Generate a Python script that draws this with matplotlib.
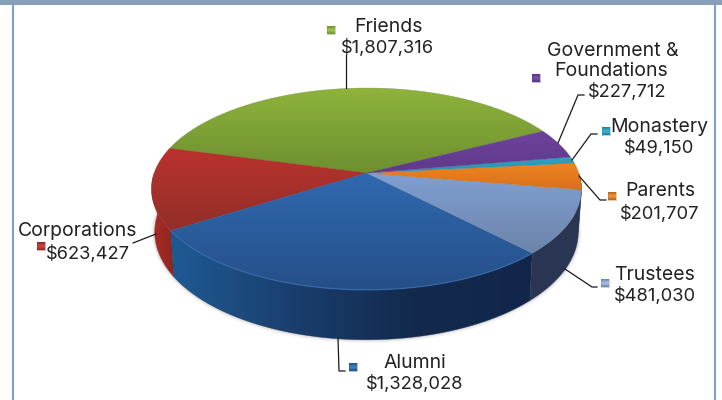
import numpy as np
import matplotlib
matplotlib.use("Agg")
import matplotlib.pyplot as plt
from matplotlib.colors import LinearSegmentedColormap
from matplotlib.patches import PathPatch
from matplotlib.path import Path

# chart data, counter-clockwise from the Friends wedge
names = ["Friends", "Corporations", "Alumni", "Trustees", "Parents", "Monastery", "Government"]
amounts = [1807316, 623427, 1328028, 481030, 201707, 49150, 227712]

top_colors = [("#8fb33c", "#6d8f30"), ("#ba322e", "#922f28"), ("#3069b0", "#264f88"),
              ("#80a0d2", "#6c84aa"), ("#ee8420", "#d8701c"), ("#33a3c0", "#2a8fae"),
              ("#6e429c", "#5f3a8c")]
wall_colors = [("#6d8f30", "#6d8f30"), ("#ae2c26", "#8c2621"),
               ("#1f5a94", "#1a3f6e", "#132a4e", "#11264a"),
               ("#2a3654", "#2a3654"), ("#2a3654", "#2a3654"), ("#1f6f88", "#1f6f88"),
               ("#46296b", "#46296b")]

label_text = [
    ("Friends", 388, 26, 14), ("$1,807,316", 388, 47, 13.2),
    ("Government &", 613, 50, 14), ("Foundations", 611, 70, 14), ("$227,712", 627, 91, 13.2),
    ("Monastery", 659, 125, 14), ("$49,150", 659, 146, 13.2),
    ("Parents", 660, 190, 14), ("$201,707", 660, 212, 13.2),
    ("Trustees", 655, 273, 14), ("$481,030", 655, 294, 13.2),
    ("Alumni", 415, 361, 14), ("$1,328,028", 415, 383, 13.2),
    ("Corporations", 78, 230, 14), ("$623,427", 88, 252, 13.2),
]
# marker x, y, light colour, dark colour
legend_marks = [(331, 30, "#a6c74e", "#6d8f30"), (536, 78, "#7d52ab", "#553385"),
                (606, 131, "#3fb5d2", "#22809c"), (612, 196, "#f09a3c", "#b8651a"),
                (605, 283, "#b0c4e2", "#6480ac"), (353, 367, "#4a82c4", "#1f4f88"),
                (41, 246, "#d04a44", "#8f2622")]
leaders = [
    [(346, 55), (346, 88)],
    [(584, 95), (578, 95), (558, 143)],
    [(597, 134), (591, 134), (572, 160)],
    [(579, 176), (600, 200), (606, 200)],
    [(565, 269), (592, 287), (597, 287)],
    [(338, 338), (339, 371), (345, 371)],
    [(133, 243), (156, 234)],
]

start_angle = 27.0
apex_x, apex_y = 366.5, 173.0
scale_x, scale_y, persp = 212.3, 98.4, 0.158
depth = 42.0


def rim(theta, lower=False):
    # perspective view of the unit circle, theta in degrees
    u, v = np.cos(np.radians(theta)), np.sin(np.radians(theta))
    w = 1 + persp * v
    x = apex_x + scale_x * u / w
    y = apex_y - scale_y * v / w
    if lower:
        x = apex_x + (x - apex_x) * 0.985
        y = y + depth / w
    return x, y


def fill_gradient(ax, xs, ys, colors, horizontal=False, z=2):
    cmap = LinearSegmentedColormap.from_list("g", list(colors))
    ramp = np.linspace(0, 1, 256)
    ramp = ramp[None, :] if horizontal else ramp[:, None]
    verts = np.column_stack([xs, ys])
    im = ax.imshow(ramp, cmap=cmap, aspect="auto", zorder=z, interpolation="bilinear",
                   extent=(xs.min(), xs.max(), ys.max(), ys.min()))
    patch = PathPatch(Path(np.vstack([verts, verts[0]]), closed=True), transform=ax.transData,
                      facecolor="none", edgecolor="none")
    ax.add_patch(patch)
    im.set_clip_path(patch)
    # thin edge hides the aliased clip border
    ax.fill(xs, ys, fc="none", ec=colors[-1], lw=0.4, zorder=z, alpha=0.6)


plt.rcParams["font.family"] = ["Inter", "DejaVu Sans"]
fig = plt.figure(figsize=(7.22, 4.0), dpi=100)
ax = fig.add_axes([0, 0, 1, 1])

angles = start_angle + np.concatenate([[0], np.cumsum(amounts)]) / np.sum(amounts) * 360

# soft shadow round the lower edge
t_all = np.linspace(178, 362, 200)
sx, sy = rim(t_all, lower=True)
for lw, a in [(5, 0.05), (3, 0.08), (1.5, 0.12)]:
    ax.plot(sx, sy, color="#555555", lw=lw, alpha=a, zorder=1)

# side walls
for i in range(len(amounts)):
    lo, hi = max(angles[i], 180), min(angles[i + 1], 360)
    if hi <= lo:
        continue
    t = np.linspace(lo, hi, 80)
    x0, y0 = rim(t)
    x1, y1 = rim(t[::-1], lower=True)
    fill_gradient(ax, np.r_[x0, x1], np.r_[y0, y1], wall_colors[i], horizontal=True, z=2)

# top faces
for i in range(len(amounts)):
    t = np.linspace(angles[i], angles[i + 1], 120)
    x, y = rim(t)
    xs, ys = np.r_[apex_x, x], np.r_[apex_y, y]
    fill_gradient(ax, xs, ys, top_colors[i], z=3)

# lit edge along the front of the top face
t = np.linspace(angles[2], angles[3], 100)
ax.plot(*rim(t), color="#3a74b8", lw=1.0, alpha=0.6, zorder=4)

for pts in leaders:
    px, py = zip(*pts)
    ax.plot(px, py, color="#1a1a1a", lw=0.9, zorder=5, solid_joinstyle="miter")

for x, y, light, dark in legend_marks:
    xs = np.array([x - 4, x + 4, x + 4, x - 4.0])
    ys = np.array([y - 4, y - 4, y + 4, y + 4.0])
    fill_gradient(ax, xs, ys, (dark, light, dark), z=6)

for s, x, y, size in label_text:
    ax.text(x, y + 1.5, s, ha="center", va="center", fontsize=size, color="#222222", zorder=8)

# page frame
ax.fill_between([0, 722], 0, 4.5, color="#87a0b9", lw=0, zorder=9)
ax.plot([12.8, 12.8], [4, 400], color="#7f9fc4", lw=1.5, zorder=9)
ax.plot([714.8, 714.8], [4, 400], color="#7f9fc4", lw=1.5, zorder=9)

ax.set_xlim(0, 722)
ax.set_ylim(400, 0)
ax.axis("off")
fig.savefig("out.png", dpi=100, facecolor="white")
